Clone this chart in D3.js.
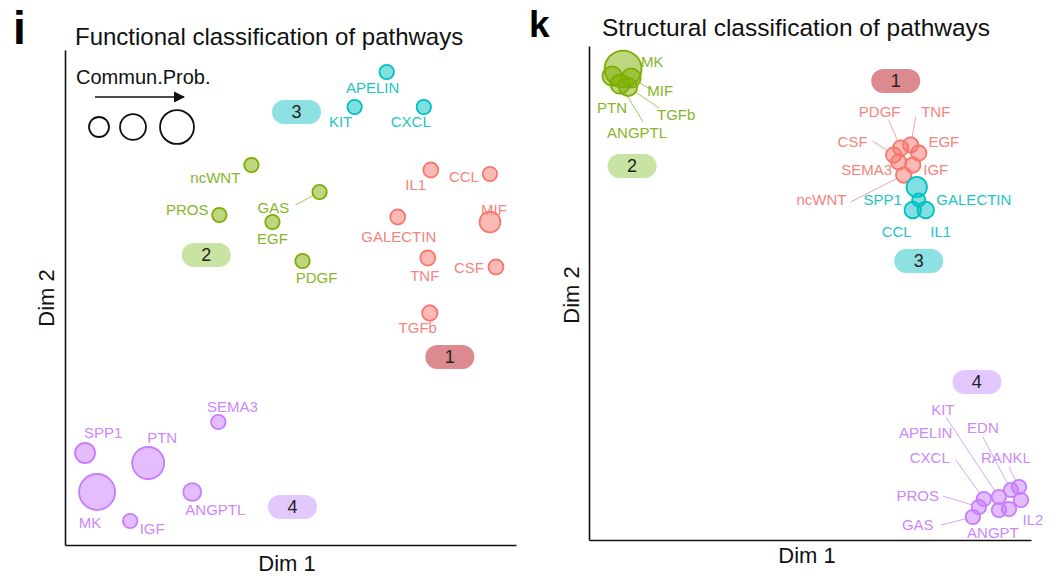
<!DOCTYPE html>
<html><head><meta charset="utf-8">
<script src="https://cdn.jsdelivr.net/npm/d3@7"></script>
<style>body{margin:0;background:#fff}svg{display:block}text{font-family:"Liberation Sans",Arial,sans-serif}</style>
</head><body>
<svg id="c" width="1053" height="581"></svg>
<script>
// ---------- Left panel: functional classification ----------
const fNames  = ["APELIN","KIT","CXCL","ncWNT","GAS","PROS","EGF","PDGF","IL1","CCL","MIF","GALECTIN","TNF","CSF","TGFb","SEMA3","SPP1","PTN","MK","IGF","ANGPTL"];
const fGroup  = [3,3,3,2,2,2,2,2,1,1,1,1,1,1,1,4,4,4,4,4,4];
const fDim1   = [32.1,28.9,35.8,18.6,25.4,15.4,20.7,23.7,36.5,42.4,42.4,33.2,36.2,43.0,36.4,15.3,2.0,8.3,3.2,6.5,12.7];
const fDim2   = [47.3,43.8,43.8,38.0,35.3,33.0,32.3,28.4,37.5,37.1,32.3,32.8,28.7,27.8,23.2,12.3,9.2,8.2,5.3,2.4,5.3];
const fProb   = [0.13,0.13,0.13,0.13,0.13,0.13,0.13,0.13,0.14,0.13,0.27,0.14,0.14,0.14,0.15,0.13,0.25,0.64,0.81,0.13,0.20];
const fLabX   = [30.7,27.5,34.5,15.0,20.8,12.2,20.7,25.1,35.0,39.8,42.8,33.3,35.9,40.3,35.2,16.7,3.8,9.7,2.5,8.7,15.0];
const fLabY   = [45.7,42.3,42.3,36.7,33.7,33.5,30.6,26.7,36.0,36.8,33.5,30.8,26.9,27.7,21.7,13.8,11.2,10.7,2.2,1.6,3.5];
const fSegs   = [{name:"GAS", x:23.0, y:34.0}];
const fClusters = [1,2,3,4];
const fClusterX = [38.4,14.1,23.1,22.7];
const fClusterY = [18.8,29.0,43.3,3.8];

// ---------- Right panel: structural classification ----------
const sNames  = ["MK","PTN","MIF","TGFb","ANGPTL","PDGF","TNF","CSF","EGF","SEMA3","IGF","ncWNT","SPP1","GALECTIN","CCL","IL1","GAS","PROS","CXCL","KIT","APELIN","EDN","RANKL","IL2","ANGPT"];
const sGroup  = [2,2,2,2,2,1,1,1,1,1,1,1,3,3,3,3,4,4,4,4,4,4,4,4,4];
const sDim1   = [3.4,2.3,4.2,3.9,3.1,31.1,32.1,30.4,32.9,30.9,32.3,31.4,32.7,32.9,32.3,33.6,38.3,38.9,39.4,40.9,40.9,42.1,42.9,43.1,41.9];
const sDim2   = [47.1,46.4,46.2,45.3,45.6,39.2,39.5,38.5,38.7,37.8,37.5,36.5,35.3,34.0,33.0,33.0,2.3,3.3,4.1,4.3,3.0,5.0,5.3,4.0,3.1];
const sProb   = [0.85,0.23,0.23,0.21,0.23,0.15,0.15,0.15,0.15,0.15,0.15,0.15,0.26,0.11,0.17,0.17,0.13,0.13,0.13,0.13,0.13,0.13,0.13,0.13,0.13];
const sLabX   = [6.3,2.3,7.1,8.7,4.8,29.0,34.6,26.3,35.4,27.7,34.6,23.2,29.3,38.4,30.7,35.1,32.8,32.8,34.0,35.3,33.6,39.3,41.6,44.3,40.3];
const sLabY   = [47.8,43.2,44.9,42.5,40.7,42.8,42.8,39.8,39.8,37.0,37.0,34.0,34.0,34.0,30.8,30.8,1.5,4.4,8.2,13.0,10.7,11.2,8.2,2.0,0.7];
const sSegs   = [
  {name:"MIF",x:6.1,y:45.1},{name:"TGFb",x:7.0,y:43.2},{name:"ANGPTL",x:5.4,y:41.8},
  {name:"PDGF",x:29.9,y:42.0},{name:"TNF",x:32.6,y:42.3},{name:"CSF",x:28.3,y:39.9},{name:"ncWNT",x:26.1,y:33.8},
  {name:"GAS",x:35.1,y:1.5},{name:"PROS",x:35.3,y:4.4},{name:"CXCL",x:36.6,y:8.0},{name:"KIT",x:35.6,y:12.3},
  {name:"EDN",x:39.3,y:10.3},{name:"RANKL",x:41.9,y:7.3}
];
const sClusters = [1,2,3,4];
const sClusterX = [30.6,4.3,32.9,38.7];
const sClusterY = [45.9,37.4,27.9,15.8];

const legendProbs = [0.25,0.42,0.72];

// ---------- styles ----------
const stroke = {1:"#F8766D",2:"#7CAE00",3:"#00BFC4",4:"#C77CFF"};
const fill   = {1:"rgba(248,118,109,0.5)",2:"rgba(124,174,0,0.5)",3:"rgba(0,191,196,0.5)",4:"rgba(199,124,255,0.5)"};
const txt    = {1:"#F4847D",2:"#86B52A",3:"#1DC3C7",4:"#CC88FA"};
const pill   = {1:"#DC8A90",2:"#C8E3A2",3:"#8EE1E3",4:"#E3C8FF"};

const svg = d3.select("#c");
const rScale = d3.scaleSqrt().domain([0,1]).range([0,20]);

function panel(cfg){
  const g = svg.append("g");
  const x = d3.scaleLinear().domain(cfg.xd).range([cfg.x0,cfg.x1]);
  const y = d3.scaleLinear().domain(cfg.yd).range([cfg.y0,cfg.y1]);
  g.append("g").attr("transform",`translate(0,${cfg.y0})`)
    .call(d3.axisBottom(x).tickValues([]).tickSizeOuter(0))
    .call(a=>a.select(".domain").attr("stroke","#111").attr("stroke-width",1.6));
  g.append("g").attr("transform",`translate(${cfg.x0},0)`)
    .call(d3.axisLeft(y).tickValues([]).tickSizeOuter(0))
    .call(a=>a.select(".domain").attr("stroke","#111").attr("stroke-width",1.6));
  cfg.clusters.forEach((c,i)=>{
    const cx = x(cfg.cx[i]), cy = y(cfg.cy[i]);
    g.append("rect").attr("x",cx-24.5).attr("y",cy-12).attr("width",49).attr("height",24)
      .attr("rx",12).attr("fill",pill[c]);
    g.append("text").attr("x",cx).attr("y",cy).attr("dy","0.36em").attr("text-anchor","middle")
      .attr("font-size",18).attr("fill","#222").text(c);
  });
  const pts = cfg.names.map((n,i)=>({name:n,g:cfg.group[i],x:x(cfg.d1[i]),y:y(cfg.d2[i]),r:rScale(cfg.prob[i]),lx:x(cfg.lx[i]),ly:y(cfg.ly[i])}));
  const byName = Object.fromEntries(pts.map(p=>[p.name,p]));
  cfg.segs.forEach(s=>{
    const p = byName[s.name]; const sx=x(s.x), sy=y(s.y);
    const dx=p.x-sx, dy=p.y-sy, L=Math.hypot(dx,dy);
    g.append("line").attr("x1",sx).attr("y1",sy).attr("x2",p.x-dx/L*p.r).attr("y2",p.y-dy/L*p.r)
      .attr("stroke",txt[p.g]).attr("stroke-width",1).attr("opacity",0.75);
  });
  g.selectAll("text.lab").data(pts).join("text").attr("class","lab")
    .attr("x",d=>d.lx).attr("y",d=>d.ly).attr("dy","0.36em").attr("text-anchor","middle")
    .attr("font-size",15).attr("fill",d=>txt[d.g]).text(d=>d.name);
  g.selectAll("circle.pt").data(pts).join("circle").attr("class","pt")
    .attr("cx",d=>d.x).attr("cy",d=>d.y).attr("r",d=>d.r)
    .attr("fill",d=>fill[d.g]).attr("stroke",d=>stroke[d.g]).attr("stroke-width",1.8);
  return {g,x,y};
}

panel({xd:[0,45],yd:[0,49.5],x0:65,x1:516,y0:545,y1:50,
  names:fNames,group:fGroup,d1:fDim1,d2:fDim2,prob:fProb,lx:fLabX,ly:fLabY,segs:fSegs,
  clusters:fClusters,cx:fClusterX,cy:fClusterY});
panel({xd:[0,44.1],yd:[0,49.4],x0:589,x1:1031,y0:540,y1:46,
  names:sNames,group:sGroup,d1:sDim1,d2:sDim2,prob:sProb,lx:sLabX,ly:sLabY,segs:sSegs,
  clusters:sClusters,cx:sClusterX,cy:sClusterY});

svg.append("text").attr("x",13).attr("y",44).attr("font-size",46).attr("font-weight","bold").attr("fill","#000").text("i");
svg.append("text").attr("x",529).attr("y",37).attr("font-size",37).attr("font-weight","bold").attr("fill","#000").text("k");
svg.append("text").attr("x",75).attr("y",45).attr("font-size",24).attr("fill","#111").text("Functional classification of pathways");
svg.append("text").attr("x",602).attr("y",36).attr("font-size",24.5).attr("fill","#111").text("Structural classification of pathways");
svg.append("text").attr("x",287).attr("y",571).attr("text-anchor","middle").attr("font-size",22).attr("fill","#111").text("Dim 1");
svg.append("text").attr("x",807).attr("y",563).attr("text-anchor","middle").attr("font-size",22).attr("fill","#111").text("Dim 1");
svg.append("text").attr("transform","translate(54,298) rotate(-90)").attr("text-anchor","middle").attr("font-size",22).attr("fill","#111").text("Dim 2");
svg.append("text").attr("transform","translate(579,295) rotate(-90)").attr("text-anchor","middle").attr("font-size",22).attr("fill","#111").text("Dim 2");

svg.append("text").attr("x",76).attr("y",84).attr("font-size",20).attr("fill","#111").text("Commun.Prob.");
svg.append("defs").append("marker").attr("id","ah").attr("viewBox","0 0 10 10").attr("refX",9).attr("refY",5)
  .attr("markerWidth",7).attr("markerHeight",7).attr("orient","auto")
  .append("path").attr("d","M0,0L10,5L0,10Z").attr("fill","#111");
svg.append("line").attr("x1",95).attr("y1",97).attr("x2",184).attr("y2",97).attr("stroke","#111").attr("stroke-width",1.6).attr("marker-end","url(#ah)");
const lx = [99,133,177];
legendProbs.forEach((p,i)=>{
  svg.append("circle").attr("cx",lx[i]).attr("cy",127).attr("r",rScale(p)).attr("fill","none").attr("stroke","#111").attr("stroke-width",1.8);
});
</script>
</body></html>
